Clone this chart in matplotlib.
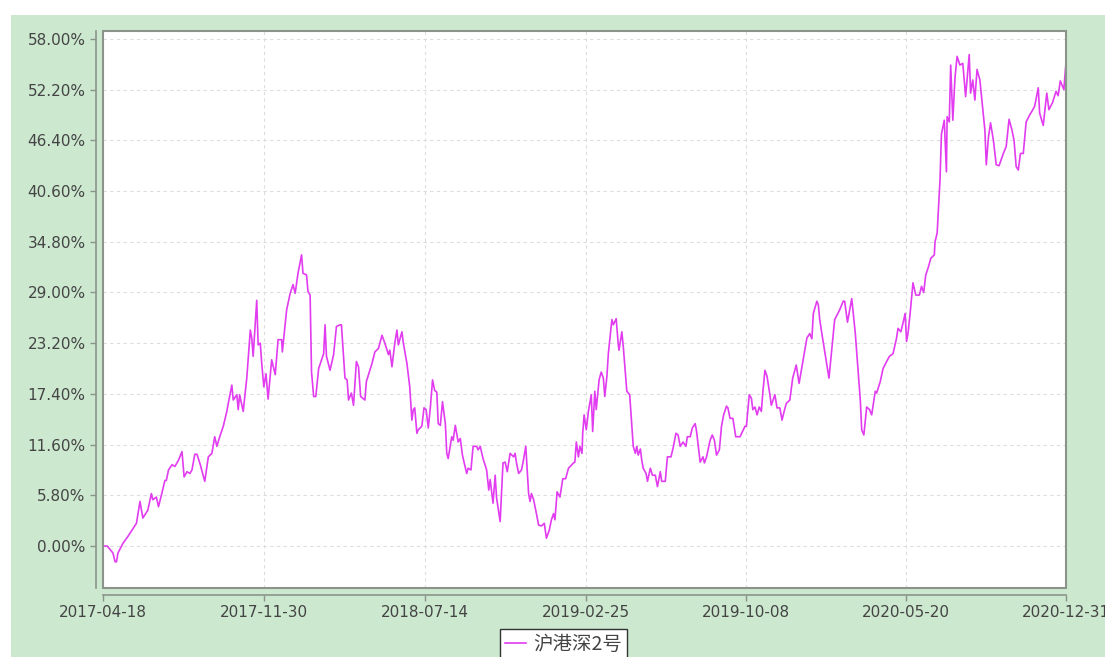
import numpy as np
import pandas as pd
import matplotlib
matplotlib.use("Agg")
import matplotlib.pyplot as plt
from matplotlib.patches import Rectangle
from matplotlib.ticker import FuncFormatter

plt.rcParams['font.family'] = ['DejaVu Sans', 'Noto Sans CJK SC']

# cumulative return series
start_date = "2017-04-18"
end_date = "2020-12-31"
day_offset = [
    0, 6, 14, 17, 19, 21, 28, 35, 47, 52, 56, 63, 68, 70, 75, 78, 82, 87, 89, 92,
    97, 101, 106, 111, 114, 118, 122, 125, 129, 132, 136, 143, 148, 153, 157, 160,
    164, 169, 174, 176, 181, 183, 188, 190, 192, 197, 202, 207, 209, 211, 216, 218,
    221, 223, 226, 229, 232, 237, 242, 246, 251, 252, 258, 263, 267, 270, 274, 279,
    281, 286, 288, 291, 293, 296, 299, 303, 310, 312, 314, 319, 324, 328, 333, 335,
    340, 343, 345, 349, 352, 356, 359, 362, 368, 370, 378, 382, 387, 392, 396, 401,
    403, 406, 410, 413, 415, 420, 422, 427, 431, 434, 436, 438, 441, 443, 448, 451,
    454, 457, 460, 463, 466, 469, 471, 474, 476, 477, 481, 483, 485, 490, 492, 495,
    499, 502, 505, 511, 513, 517, 520, 525, 527, 530, 534, 539, 542, 544, 548, 551,
    553, 558, 562, 565, 568, 572, 577, 579, 581, 584, 588, 590, 594, 598, 600, 602,
    605, 609, 612, 616, 620, 623, 627, 630, 633, 635, 638, 642, 646, 650, 654, 661,
    663, 665, 668, 670, 673, 674, 676, 679, 682, 686, 688, 691, 693, 697, 700, 703,
    705, 708, 710, 715, 717, 721, 724, 725, 729, 731, 736, 740, 745, 748, 750, 752,
    755, 757, 759, 763, 765, 769, 772, 776, 779, 783, 785, 790, 793, 798, 801, 805,
    808, 811, 815, 819, 821, 825, 828, 832, 834, 839, 843, 845, 848, 853, 856, 859,
    862, 866, 869, 872, 876, 878, 881, 885, 889, 895, 902, 904, 908, 911, 913, 916,
    919, 922, 925, 927, 930, 933, 937, 939, 944, 947, 951, 954, 957, 960, 965, 969,
    974, 978, 985, 989, 993, 996, 998, 1003, 1005, 1007, 1010, 1020, 1028, 1035,
    1040, 1042, 1046, 1052, 1057, 1064, 1066, 1069, 1073, 1077, 1080, 1085, 1087,
    1092, 1096, 1101, 1105, 1110, 1115, 1117, 1121, 1124, 1127, 1129, 1131, 1134,
    1138, 1142, 1147, 1150, 1153, 1156, 1160, 1163, 1168, 1169, 1172, 1176, 1178,
    1182, 1185, 1186, 1189, 1191, 1194, 1197, 1200, 1204, 1208, 1212, 1217, 1219,
    1222, 1225, 1228, 1232, 1239, 1241, 1244, 1247, 1251, 1255, 1259, 1265, 1269,
    1273, 1277, 1280, 1283, 1286, 1289, 1293, 1297, 1302, 1305, 1309, 1314, 1316,
    1321, 1326, 1329, 1334, 1339, 1342, 1345, 1350, 1353,
]
returns_pct = [
    0.0, 0.0, -0.8, -1.8, -1.8, -0.8, 0.3, 1.1, 2.6, 5.1, 3.2, 4.1, 6.0, 5.3, 5.6, 4.5, 5.8, 7.5, 7.5, 8.7,
    9.3, 9.1, 9.8, 10.8, 7.9, 8.5, 8.3, 8.7, 10.5, 10.5, 9.5, 7.4, 10.2, 10.6, 12.5, 11.4,
    12.5, 13.7, 15.4, 16.3, 18.4, 16.7, 17.3, 15.6, 17.3, 15.4, 19.2, 24.7, 23.8, 21.7, 28.1, 23.0,
    23.2, 20.9, 18.2, 19.7, 16.8, 21.3, 19.6, 23.6, 23.6, 22.2, 27.0, 28.9, 29.9, 28.9, 31.2, 33.3,
    31.2, 31.0, 29.1, 28.7, 19.9, 17.1, 17.1, 20.3, 22.0, 25.3, 21.7, 20.1, 21.9, 25.1, 25.3, 25.3,
    19.2, 19.0, 16.7, 17.5, 16.1, 21.1, 20.5, 17.1, 16.7, 18.8, 20.9, 22.2, 22.6, 24.1, 23.2, 21.9,
    22.4, 20.5, 23.2, 24.7, 23.0, 24.5, 23.2, 20.9, 18.2, 14.4, 15.6, 15.8, 12.9, 13.3, 13.7, 15.8,
    15.6, 13.5, 15.9, 19.0, 17.8, 17.6, 14.0, 13.8, 15.6, 16.5, 14.0, 10.6, 10.0, 12.5, 12.1, 13.8,
    11.9, 12.3, 10.4, 8.3, 8.9, 8.7, 11.4, 11.4, 11.0, 11.4, 10.0, 8.7, 6.4, 7.6, 4.9, 8.1,
    5.5, 2.8, 9.5, 9.6, 8.5, 10.6, 10.2, 10.6, 9.5, 8.3, 8.7, 9.5, 11.4, 6.0, 5.1, 6.0,
    5.3, 3.7, 2.4, 2.3, 2.6, 0.9, 1.8, 3.0, 3.7, 3.0, 6.2, 5.6, 7.7, 7.7, 8.9, 9.5,
    9.6, 11.9, 10.2, 11.4, 10.6, 12.9, 15.0, 13.3, 15.4, 17.3, 13.1, 17.7, 15.6, 19.0, 19.9, 19.2,
    17.1, 19.4, 22.0, 25.9, 25.3, 26.0, 23.0, 22.4, 24.5, 22.8, 17.7, 17.3, 11.4, 10.6, 11.4, 10.4,
    11.1, 9.8, 8.9, 8.3, 7.4, 8.9, 8.1, 8.1, 6.8, 8.5, 7.4, 7.4, 10.2, 10.2, 11.2, 12.9,
    12.7, 11.4, 11.9, 11.4, 12.5, 12.5, 13.5, 14.0, 13.1, 9.6, 10.2, 9.5, 10.2, 12.1, 12.7, 12.1,
    10.4, 11.0, 13.7, 15.0, 16.0, 15.8, 14.6, 14.6, 12.5, 12.5, 13.7, 13.7, 17.3, 16.9, 15.6, 15.9,
    15.0, 15.9, 15.4, 17.5, 20.1, 19.4, 17.3, 16.1, 17.3, 15.8, 15.8, 14.4, 15.4, 16.3, 16.7, 19.2,
    20.7, 18.6, 21.9, 23.8, 24.3, 23.7, 26.6, 28.0, 27.6, 25.9, 24.3, 19.2, 25.9, 27.0,
    28.0, 28.0, 25.6, 28.3, 24.3, 16.7, 13.3, 12.7, 15.9, 15.6, 15.0, 17.7, 17.5,
    18.8, 20.3, 21.1, 21.7, 22.0, 23.8, 24.9, 24.5, 25.5, 26.6, 23.4, 24.3, 26.6,
    30.1, 28.7, 28.7, 29.7, 29.0, 31.0, 32.0, 32.9, 33.3, 34.8, 35.8, 41.9, 47.1,
    48.7, 42.8, 49.1, 48.5, 55.0, 48.7, 53.5, 56.0, 55.0, 55.2, 51.4, 56.2, 51.8,
    53.3, 51.0, 54.5, 53.3, 47.6, 43.6, 46.7, 48.4, 46.4, 43.6, 43.5, 44.9, 45.7,
    48.8, 47.6, 46.4, 43.4, 43.0, 44.9, 44.9, 48.5, 49.3, 49.7, 50.3, 52.4, 49.5,
    48.1, 51.8, 49.9, 50.7, 52.0, 51.5, 53.2, 52.2, 55.3,
]
series_name = "沪港深2号"
x_tick_labels = ["2017-04-18", "2017-11-30", "2018-07-14", "2019-02-25",
                 "2019-10-08", "2020-05-20", "2020-12-31"]
y_ticks = [0.0, 5.8, 11.6, 17.4, 23.2, 29.0, 34.8, 40.6, 46.4, 52.2, 58.0]

dates = pd.Timestamp(start_date) + pd.to_timedelta(day_offset, unit="D")

fig = plt.figure(figsize=(11.05, 6.57), dpi=100)
# green panel behind the chart
fig.patches.append(Rectangle((11 / 1105, 0), 1, 1 - 15 / 657, transform=fig.transFigure,
                             facecolor="#cce8cf", edgecolor="none", zorder=-10))

ax = fig.add_axes([0.0932, 0.105, 0.8715, 0.8478])
ax.plot(dates, returns_pct, color="#e23cf0", linewidth=1.2, label=series_name)

ax.set_xlim(pd.Timestamp(start_date), pd.Timestamp(end_date))
ax.set_ylim(-4.8, 58.9)
ax.set_xticks(pd.to_datetime(x_tick_labels))
ax.set_xticklabels(x_tick_labels)
ax.set_yticks(y_ticks)
ax.yaxis.set_major_formatter(FuncFormatter(lambda v, p: f"{v:.2f}%"))

# solid frame round the plot area, axis lines slightly offset outside it
ax.set_facecolor("white")
ax.add_patch(Rectangle((0, 0), 1, 1, transform=ax.transAxes, fill=False,
                       edgecolor="#8a948a", linewidth=1.5, clip_on=False, zorder=5))
for side in ["top", "right"]:
    ax.spines[side].set_visible(False)
for side in ["left", "bottom"]:
    ax.spines[side].set_position(("outward", 5))
    ax.spines[side].set_color("#8a948a")
    ax.spines[side].set_linewidth(1.2)

ax.tick_params(axis="both", colors="#8a948a", labelcolor="#444444", labelsize=11,
               length=4, width=1)
ax.grid(True, linestyle=(0, (3, 3)), color="#dddddd", linewidth=0.8)
ax.set_axisbelow(True)

leg = fig.legend(loc="upper center", bbox_to_anchor=(0.51, 0.043), fontsize=14,
                 frameon=True, fancybox=False, framealpha=1, handlelength=1.1,
                 borderpad=0.25, handletextpad=0.35, borderaxespad=0)
leg.get_frame().set_edgecolor("#333333")
leg.get_frame().set_facecolor("white")
leg.get_frame().set_linewidth(1.0)
for t in leg.get_texts():
    t.set_color("#444444")
    t.set_family(["Noto Sans CJK SC", "DejaVu Sans"])

fig.savefig("out.png", dpi=100)
